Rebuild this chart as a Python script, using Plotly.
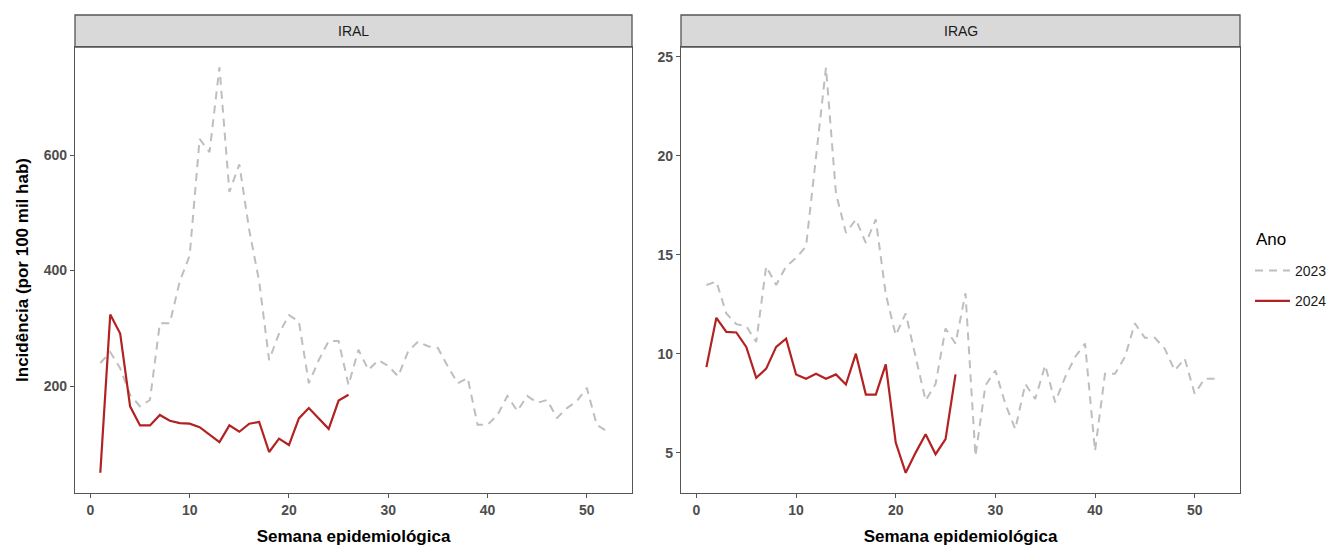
import plotly.graph_objects as go

# ---------------- data ----------------
weeks_2023 = list(range(1, 53))
weeks_2024 = list(range(1, 27))

iral_2023 = [240, 259, 231, 185, 165, 176, 309, 309, 381, 426, 628, 605, 752, 536, 584, 470,
             381, 245, 291, 323, 312, 205, 245, 278, 278, 202, 263, 228, 245, 235, 217, 260,
             277, 269, 266, 234, 205, 214, 133, 133, 150, 183, 157, 183, 171, 176, 145, 162,
             174, 197, 133, 122]
iral_2024 = [50, 324, 291, 165, 132, 132, 150, 140, 136, 135, 129, 116, 103, 132, 121, 135,
             138, 86, 109, 98, 144, 162, 144, 126, 175, 185]

irag_2023 = [13.47, 13.64, 12.03, 11.49, 11.39, 10.59, 14.41, 13.47, 14.41, 14.83, 15.42, 20.0,
             24.45, 18.1, 16.1, 16.78, 15.59, 16.78, 13.0, 10.93, 12.03, 9.83, 7.63, 8.47, 11.27,
             10.51, 13.05, 4.83, 8.39, 9.15, 7.46, 6.19, 8.47, 7.71, 9.41, 7.54, 8.81, 9.83,
             10.51, 5.08, 8.98, 8.98, 9.83, 11.53, 10.8, 10.8, 10.25, 9.15, 9.75, 7.97, 8.73, 8.73]
irag_2024 = [9.32, 11.81, 11.10, 11.07, 10.34, 8.78, 9.24, 10.34, 10.76, 8.95, 8.73, 8.98, 8.73,
             8.95, 8.44, 10.0, 7.93, 7.93, 9.46, 5.51, 3.98, 5.0, 5.93, 4.92, 5.68, 8.95]

panels = ["IRAL", "IRAG"]
years = ["2023", "2024"]
legend_title = "Ano"
x_ticks = [0, 10, 20, 30, 40, 50]
iral_ticks = [200, 400, 600]
irag_ticks = [5, 10, 15, 20, 25]

# ---------------- style ----------------
OFF = 8  # page body margin
W, H = 1341 - OFF, 548 - OFF
c2023 = "#BEBEBE"
c2024 = "#B22222"
tickfont = dict(family="Liberation Sans Narrow, Liberation Sans, Arial", size=14,
                color="#4D4D4D", weight="bold")
titlefont = dict(family="Liberation Sans, Arial", size=17, color="#000000")

def px_x(p):
    return (p - OFF) / W

def px_y(p):
    return 1 - (p - OFF) / H

top, bottom = 47, 493
dom_y = [px_y(bottom), px_y(top)]
dom_x1 = [px_x(75), px_x(632)]
dom_x2 = [px_x(681), px_x(1240)]

fig = go.Figure()

series = [
    ("x", "y", weeks_2023, iral_2023, "2023", True),
    ("x", "y", weeks_2024, iral_2024, "2024", True),
    ("x2", "y2", weeks_2023, irag_2023, "2023", False),
    ("x2", "y2", weeks_2024, irag_2024, "2024", False),
]
for xa, ya, xs, ys, yr, show in series:
    fig.add_trace(go.Scatter(
        x=xs, y=ys, xaxis=xa, yaxis=ya, mode="lines", name=yr,
        legendgroup=yr, showlegend=show,
        line=dict(color=c2023 if yr == "2023" else c2024,
                  width=2 if yr == "2023" else 2.2,
                  dash="8px,6px" if yr == "2023" else "solid"),
    ))

axis_common = dict(showgrid=False, zeroline=False, showline=True, mirror=True,
                   linecolor="#555555", linewidth=1.3, ticks="outside", ticklen=4,
                   tickcolor="#555555", tickwidth=1.2, tickfont=tickfont, automargin=False)

fig.update_layout(
    width=W, height=H,
    margin=dict(l=0, r=0, t=0, b=0, autoexpand=False),
    paper_bgcolor="white", plot_bgcolor="white",
    xaxis=dict(domain=dom_x1, range=[-1.55, 54.55], tickvals=x_ticks, anchor="y",
               title=dict(text="<b>Semana epidemiológica</b>", font=titlefont, standoff=13),
               **axis_common),
    yaxis=dict(domain=dom_y, range=[15, 787], tickvals=iral_ticks, anchor="x",
               title=dict(text="<b>Incidência (por 100 mil hab)</b>", font=titlefont, standoff=10),
               **axis_common),
    xaxis2=dict(domain=dom_x2, range=[-1.55, 54.55], tickvals=x_ticks, anchor="y2",
                title=dict(text="<b>Semana epidemiológica</b>", font=titlefont, standoff=13),
                **axis_common),
    yaxis2=dict(domain=dom_y, range=[2.96, 25.49], tickvals=irag_ticks, anchor="x2",
                **axis_common),
    legend=dict(x=px_x(1250), y=px_y(255), xanchor="left", yanchor="top",
                font=dict(family="Liberation Sans, Arial", size=14, color="#1A1A1A"),
                tracegroupgap=9, itemwidth=35, bgcolor="rgba(0,0,0,0)"),
)

fig.add_annotation(xref="paper", yref="paper", x=px_x(1254), y=px_y(239),
                   text=legend_title, showarrow=False, xanchor="left", yanchor="middle",
                   font=dict(family="Liberation Sans, Arial", size=17, color="#000000"))

# strips
for dom, label in zip([dom_x1, dom_x2], panels):
    fig.add_shape(type="rect", xref="paper", yref="paper",
                  x0=dom[0], x1=dom[1], y0=px_y(47), y1=px_y(15),
                  fillcolor="#D9D9D9", line=dict(color="#555555", width=1.3), layer="below")
    fig.add_annotation(xref="paper", yref="paper", x=(dom[0] + dom[1]) / 2, y=px_y(31),
                       text=label, showarrow=False, xanchor="center", yanchor="middle",
                       font=dict(family="Liberation Sans, Arial", size=14, color="#1A1A1A"))

fig.write_html("out.html")
